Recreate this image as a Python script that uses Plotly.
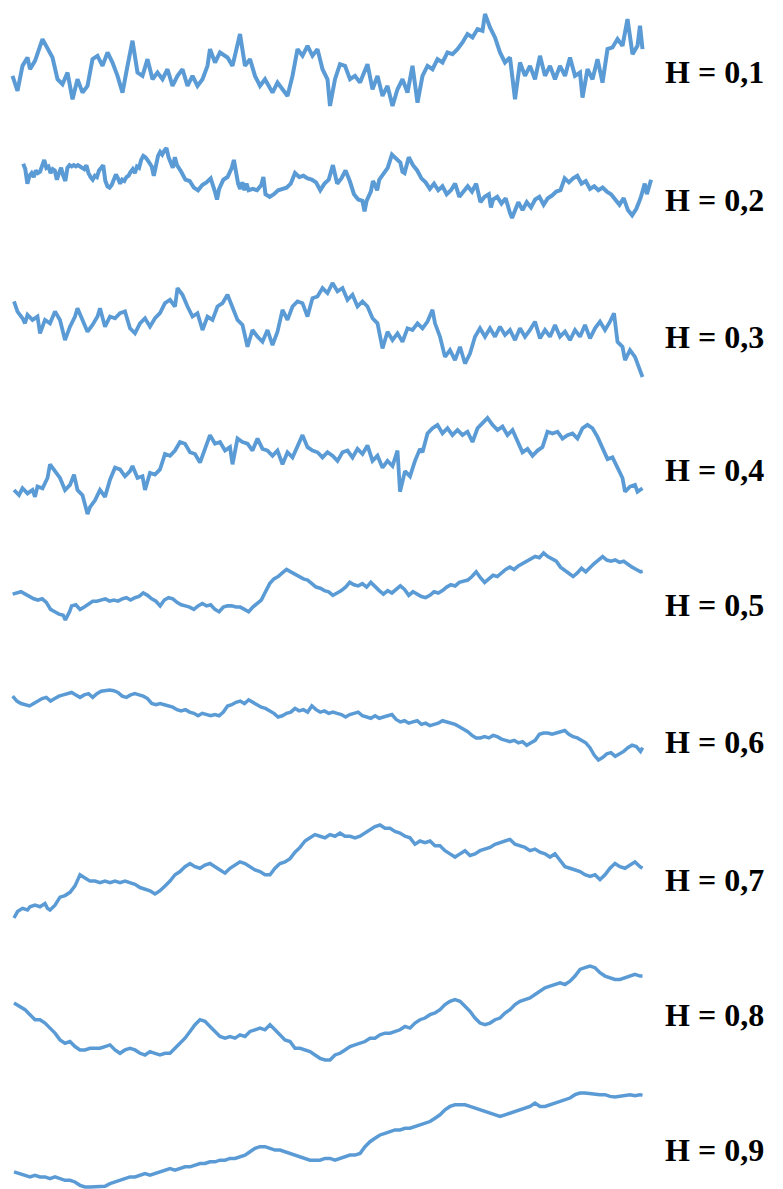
import numpy as np
import plotly.graph_objects as go

H_LABELS = ["H = 0,1", "H = 0,2", "H = 0,3", "H = 0,4", "H = 0,5",
            "H = 0,6", "H = 0,7", "H = 0,8", "H = 0,9"]

H01 = [(25,230),(35,275),(45,200),(55,175),(60,210),(70,185),(85,120),(95,150),(105,175),(115,240),(125,255),(135,220),(145,300),(155,240),(165,280),(175,260),(185,180),(195,170),(205,200),(215,160),(225,190),(235,230),(245,280),(255,200),(265,125),(275,220),(285,230),(295,180),(305,240),(315,220),(325,240),(335,210),(345,260),(355,230),(365,210),(375,260),(385,230),(395,260),(405,240),(415,200),(420,150),(430,190),(440,160),(455,175),(465,200),(480,105),(490,200),(500,180),(510,230),(520,260),(530,240),(545,280),(555,250),(565,270),(575,290),(585,230),(595,150),(605,170),(615,140),(625,170),(635,150),(645,210),(655,240),(660,320),(670,240),(680,195),(690,200),(700,240),(710,230),(720,250),(735,195),(745,270),(755,230),(765,290),(775,260),(785,320),(795,270),(805,240),(815,280),(825,200),(835,310),(845,230),(855,200),(865,210),(875,180),(885,190),(895,160),(905,165),(915,150),(925,130),(935,105),(945,115),(955,90),(965,95),(970,45),(980,85),(990,115),(1000,160),(1010,190),(1020,175),(1030,300),(1040,190),(1050,230),(1060,200),(1070,240),(1080,170),(1090,230),(1100,200),(1110,240),(1120,200),(1130,230),(1140,175),(1150,230),(1160,220),(1165,295),(1175,210),(1185,240),(1195,180),(1205,250),(1215,150),(1225,145),(1235,120),(1245,140),(1255,60),(1265,165),(1275,140),(1280,80),(1285,150)]

H02 = [(55,115),(60,135),(65,190),(70,160),(75,150),(80,165),(85,140),(90,150),(95,145),(100,120),(105,100),(110,130),(115,125),(120,150),(125,135),(130,140),(135,175),(140,150),(145,130),(150,160),(155,180),(160,130),(165,120),(170,125),(175,120),(180,125),(185,120),(190,125),(195,130),(200,135),(205,120),(210,150),(215,165),(220,175),(225,160),(230,165),(235,140),(240,130),(245,120),(250,180),(255,200),(260,205),(265,195),(270,175),(275,155),(280,170),(285,190),(290,175),(295,180),(300,165),(305,160),(310,145),(315,135),(320,150),(325,125),(330,130),(335,100),(340,85),(345,90),(350,100),(355,110),(360,125),(365,160),(370,115),(375,85),(380,70),(385,80),(390,65),(395,55),(400,90),(405,110),(410,130),(415,90),(420,120),(430,145),(440,175),(450,180),(460,205),(470,215),(480,195),(490,185),(500,170),(510,220),(515,250),(520,210),(530,175),(540,165),(545,150),(550,130),(555,100),(560,155),(565,190),(570,210),(575,185),(580,215),(585,190),(590,215),(600,210),(610,215),(620,195),(625,165),(630,230),(640,240),(650,230),(660,215),(670,210),(680,205),(690,190),(700,150),(710,165),(720,160),(730,170),(740,175),(750,185),(760,215),(770,190),(780,175),(790,120),(800,190),(810,170),(820,140),(830,180),(840,230),(850,250),(860,255),(865,295),(870,255),(880,220),(885,180),(890,195),(895,215),(900,175),(910,150),(920,130),(930,80),(940,95),(950,110),(955,145),(960,150),(970,90),(980,120),(990,140),(1000,170),(1010,185),(1020,210),(1030,190),(1040,215),(1050,200),(1060,230),(1070,215),(1080,190),(1090,240),(1100,220),(1110,200),(1120,220),(1130,190),(1140,260),(1150,240),(1160,230),(1165,280),(1170,250),(1180,240),(1190,265),(1200,245),(1210,300),(1215,320),(1220,300),(1230,260),(1240,290),(1250,260),(1260,280),(1270,250),(1280,240),(1290,270),(1300,245),(1310,235),(1320,220),(1330,215),(1340,170),(1350,185),(1360,170),(1370,160),(1380,190),(1390,180),(1400,210),(1410,200),(1420,215),(1430,205),(1440,220),(1450,230),(1460,250),(1470,270),(1480,245),(1490,290),(1500,310),(1510,285),(1520,245),(1530,190),(1535,230),(1545,175)]

H03 = [(28,95),(35,125),(45,145),(50,160),(55,135),(65,150),(75,140),(80,190),(90,150),(100,160),(110,125),(120,150),(130,210),(140,170),(150,140),(155,115),(165,150),(175,185),(185,165),(195,140),(200,115),(210,170),(220,140),(230,145),(240,130),(250,125),(260,175),(270,190),(280,160),(290,145),(300,170),(310,145),(320,130),(330,100),(340,90),(350,110),(355,55),(365,75),(375,110),(385,140),(395,130),(405,180),(415,140),(425,150),(435,110),(445,100),(455,75),(465,115),(475,150),(485,165),(495,230),(505,180),(515,200),(525,215),(535,180),(545,225),(555,185),(565,120),(575,150),(585,110),(595,95),(605,100),(615,140),(625,85),(635,80),(645,55),(655,70),(665,40),(675,65),(685,55),(695,90),(705,75),(715,110),(725,95),(735,110),(745,145),(755,160),(765,235),(775,185),(785,210),(795,190),(805,215),(815,175),(825,180),(835,160),(845,175),(855,155),(865,120),(870,160),(880,200),(890,260),(900,240),(910,270),(920,230),(930,280),(940,250),(950,200),(960,175),(970,200),(980,175),(990,200),(1000,170),(1010,195),(1020,180),(1030,210),(1040,175),(1050,200),(1060,180),(1070,155),(1080,205),(1090,180),(1100,200),(1110,165),(1120,200),(1130,185),(1140,210),(1150,180),(1160,200),(1170,165),(1180,205),(1190,175),(1200,155),(1210,180),(1220,155),(1228,130),(1235,215),(1245,230),(1250,270),(1260,240),(1270,260),(1278,290),(1285,320)]

H04 = [(28,250),(38,265),(45,245),(55,260),(65,250),(70,270),(75,240),(85,245),(95,215),(100,175),(110,195),(120,215),(130,250),(140,235),(148,205),(155,250),(165,265),(175,320),(180,300),(190,280),(200,250),(210,270),(220,220),(230,185),(240,190),(250,210),(260,195),(265,180),(275,215),(285,210),(290,250),(300,200),(310,205),(320,190),(330,145),(340,150),(350,135),(360,110),(370,115),(380,140),(390,145),(400,170),(410,130),(420,90),(430,115),(440,110),(450,135),(460,125),(465,175),(475,100),(485,110),(495,115),(505,135),(515,100),(525,130),(535,135),(545,150),(555,135),(565,175),(575,140),(585,155),(595,125),(605,90),(615,125),(625,135),(635,140),(645,155),(655,140),(665,150),(675,165),(685,140),(695,135),(705,155),(715,130),(725,145),(735,120),(745,165),(755,150),(765,185),(775,165),(785,180),(795,135),(800,255),(810,195),(820,210),(830,165),(840,130),(845,140),(855,85),(865,70),(875,60),(885,85),(895,70),(905,90),(915,75),(925,90),(935,80),(945,110),(955,70),(965,55),(975,40),(985,60),(995,75),(1005,65),(1015,90),(1025,75),(1035,110),(1045,140),(1055,130),(1065,150),(1075,135),(1085,125),(1095,80),(1105,85),(1115,80),(1125,100),(1135,90),(1145,85),(1155,100),(1165,70),(1175,60),(1185,70),(1195,95),(1205,130),(1215,160),(1225,155),(1235,185),(1245,215),(1250,255),(1260,240),(1270,235),(1275,255),(1285,245)]

H05 = [(30,215),(40,210),(50,205),(60,215),(70,225),(80,235),(90,240),(100,235),(110,250),(120,280),(130,290),(140,300),(150,305),(155,325),(165,290),(170,265),(180,260),(190,280),(200,270),(210,255),(220,245),(230,245),(240,240),(250,235),(260,245),(270,240),(280,245),(290,235),(300,230),(310,240),(320,230),(330,225),(340,210),(350,220),(360,235),(370,245),(380,265),(390,240),(400,230),(410,235),(420,250),(430,260),(440,265),(450,270),(460,280),(470,265),(480,255),(490,265),(500,260),(510,280),(520,290),(530,270),(540,265),(550,265),(560,270),(570,270),(580,280),(590,290),(600,270),(610,255),(620,240),(630,205),(640,170),(650,150),(660,140),(670,125),(680,110),(690,120),(700,130),(710,140),(720,150),(730,155),(740,170),(750,185),(760,190),(770,200),(780,205),(790,220),(800,210),(810,200),(820,185),(830,165),(840,175),(850,180),(860,170),(870,185),(880,165),(890,180),(900,200),(910,215),(920,200),(930,210),(940,195),(950,180),(960,195),(970,220),(980,205),(990,215),(1000,225),(1010,230),(1020,220),(1030,205),(1040,210),(1050,200),(1060,185),(1070,175),(1080,180),(1090,165),(1100,160),(1110,155),(1120,140),(1130,120),(1140,145),(1150,165),(1160,150),(1170,135),(1180,140),(1190,125),(1200,110),(1210,100),(1220,110),(1230,95),(1240,85),(1250,75),(1260,65),(1270,55),(1280,60),(1290,40),(1300,55),(1310,65),(1320,75),(1330,100),(1340,115),(1350,130),(1360,140),(1370,125),(1380,105),(1390,120),(1400,100),(1410,85),(1420,70),(1430,55),(1440,70),(1450,75),(1460,70),(1470,80),(1480,75),(1490,90),(1500,100),(1510,110),(1520,120),(1525,118)]

H06 = [(30,60),(40,80),(50,90),(60,95),(70,100),(80,90),(90,80),(100,70),(110,65),(120,80),(130,70),(140,60),(150,55),(160,50),(170,45),(180,55),(190,65),(200,55),(210,50),(220,65),(230,50),(240,40),(250,38),(260,35),(270,38),(280,45),(290,60),(300,65),(310,55),(320,50),(330,55),(340,60),(350,70),(360,90),(370,95),(380,90),(390,95),(400,100),(410,105),(420,115),(430,120),(440,115),(450,125),(460,130),(470,140),(480,130),(490,135),(500,140),(510,135),(520,140),(530,125),(540,100),(550,95),(560,85),(570,80),(580,90),(590,75),(600,85),(610,95),(620,105),(630,110),(640,120),(650,130),(660,145),(670,140),(680,130),(690,125),(700,110),(710,120),(720,115),(730,125),(740,100),(750,115),(760,125),(770,120),(780,130),(790,125),(800,130),(810,135),(820,145),(830,135),(840,130),(850,125),(860,140),(870,145),(880,150),(890,140),(900,150),(910,145),(920,140),(930,135),(940,155),(950,165),(960,160),(970,170),(980,165),(990,160),(1000,175),(1010,170),(1020,180),(1030,175),(1040,170),(1050,160),(1060,165),(1070,170),(1080,175),(1090,185),(1100,195),(1110,205),(1120,220),(1130,230),(1140,230),(1150,225),(1160,230),(1170,220),(1180,225),(1190,235),(1200,240),(1210,245),(1220,240),(1230,250),(1240,245),(1250,260),(1260,250),(1270,240),(1280,215),(1290,210),(1300,210),(1310,215),(1320,210),(1330,205),(1340,200),(1350,215),(1360,225),(1370,230),(1380,240),(1390,250),(1400,270),(1410,300),(1420,320),(1430,310),(1440,295),(1450,290),(1460,305),(1470,295),(1480,285),(1490,270),(1500,260),(1510,265),(1520,285),(1525,270)]

H07 = [(28,320),(35,300),(45,290),(55,295),(60,285),(70,280),(80,285),(90,275),(95,290),(100,295),(110,280),(120,255),(130,250),(140,240),(150,220),(160,185),(170,195),(180,205),(190,205),(200,210),(210,205),(220,210),(230,205),(240,210),(250,205),(260,210),(270,215),(280,225),(290,230),(300,235),(310,245),(320,235),(330,220),(340,205),(350,185),(360,175),(370,160),(380,150),(390,160),(400,165),(410,155),(420,150),(430,160),(440,170),(450,180),(460,165),(470,155),(480,145),(490,150),(500,160),(510,170),(520,175),(530,185),(540,185),(550,165),(560,150),(570,145),(580,135),(590,115),(600,100),(610,80),(620,70),(630,60),(640,65),(650,70),(660,60),(670,65),(680,55),(690,65),(700,65),(710,70),(720,65),(730,55),(740,45),(750,35),(760,30),(770,40),(780,40),(790,50),(800,55),(810,65),(820,70),(830,90),(840,80),(850,85),(860,80),(870,95),(880,95),(890,110),(900,120),(910,130),(920,120),(930,110),(940,125),(950,120),(960,110),(970,105),(980,100),(990,90),(1000,85),(1010,80),(1020,75),(1030,90),(1040,95),(1050,100),(1060,110),(1070,105),(1080,115),(1090,120),(1100,130),(1110,120),(1120,140),(1130,160),(1140,165),(1150,170),(1160,175),(1170,185),(1180,190),(1190,185),(1200,200),(1210,185),(1220,165),(1230,150),(1240,160),(1250,165),(1260,155),(1270,145),(1280,160),(1285,165)]

H08 = [(28,135),(40,145),(50,155),(60,170),(70,185),(80,185),(90,195),(100,210),(110,225),(120,245),(130,255),(140,250),(150,265),(160,275),(170,275),(180,270),(190,270),(200,270),(210,265),(220,260),(230,275),(240,285),(250,275),(260,270),(270,275),(280,285),(290,290),(300,280),(310,285),(320,290),(330,285),(340,285),(350,270),(360,255),(370,240),(380,220),(390,200),(400,185),(410,190),(420,205),(430,220),(440,235),(450,240),(460,235),(470,240),(480,230),(490,235),(500,220),(510,215),(520,210),(530,215),(540,200),(550,215),(560,230),(570,245),(580,250),(590,270),(600,270),(610,275),(620,280),(630,290),(640,300),(650,305),(660,305),(670,290),(680,285),(690,275),(700,265),(710,260),(720,255),(730,250),(740,240),(750,240),(760,230),(770,225),(780,225),(790,220),(800,215),(810,205),(820,210),(830,195),(840,185),(850,180),(860,170),(870,165),(880,155),(890,140),(900,130),(910,125),(920,130),(930,145),(940,160),(950,180),(960,195),(970,200),(980,195),(990,185),(1000,180),(1010,165),(1020,155),(1030,140),(1040,130),(1050,125),(1060,120),(1070,110),(1080,100),(1090,90),(1100,85),(1110,80),(1120,75),(1130,80),(1140,70),(1150,55),(1160,35),(1170,30),(1180,25),(1190,30),(1200,45),(1210,55),(1220,60),(1230,65),(1240,65),(1250,60),(1260,55),(1270,50),(1280,55),(1285,55)]

H09 = [(28,275),(40,280),(50,285),(60,290),(70,285),(80,290),(90,290),(100,295),(110,290),(120,295),(130,300),(140,300),(150,305),(160,315),(170,320),(180,320),(190,320),(200,320),(210,318),(220,310),(230,305),(240,300),(250,295),(260,290),(270,290),(280,285),(290,280),(300,285),(310,280),(320,275),(330,270),(340,265),(350,270),(360,265),(370,260),(380,260),(390,255),(400,250),(410,250),(420,245),(430,245),(440,240),(450,240),(460,235),(470,235),(480,230),(490,225),(500,215),(510,205),(520,200),(530,200),(540,205),(550,210),(560,210),(570,215),(580,220),(590,225),(600,230),(610,235),(620,240),(630,240),(640,240),(650,235),(660,235),(670,240),(680,235),(690,230),(700,225),(710,225),(720,220),(730,200),(740,185),(750,175),(760,165),(770,160),(780,155),(790,150),(800,150),(810,145),(820,145),(830,140),(840,135),(850,130),(860,125),(870,115),(880,105),(890,90),(900,80),(910,75),(920,75),(930,75),(940,80),(950,85),(960,90),(970,95),(980,100),(990,105),(1000,110),(1010,105),(1020,100),(1030,95),(1040,90),(1050,85),(1060,80),(1070,70),(1080,80),(1090,80),(1100,75),(1110,70),(1120,65),(1130,60),(1140,55),(1150,45),(1160,40),(1170,40),(1180,42),(1190,42),(1200,45),(1210,45),(1220,50),(1230,52),(1240,50),(1250,48),(1260,45),(1270,48),(1280,45),(1285,47)]

SERIES = [H01, H02, H03, H04, H05, H06, H07, H08, H09]

# Layout calibration (pixels in a 783x1189 canvas)
W, HGT = 783, 1189
X_START, X_END = 12, 643
T_PER_PX = [2.0, 2.373, 2.0, 2.0, 2.373, 2.373, 2.0, 2.0, 2.0]
# (depth_top, px_top, depth_bottom, px_bottom)
CAL = [(45, 14, 320, 106), (55, 148, 320, 218), (40, 283, 320, 377), (40, 418, 320, 514),
       (40, 553, 325, 620), (35, 690, 320, 760), (30, 825, 320, 918), (25, 966, 305, 1060),
       (40, 1093, 320, 1187)]
LABEL_Y = [72, 200, 337, 470, 605, 742, 880, 1015, 1150]
LABEL_X = 664

COLOR = "#5B9BD5"
WIDTHS = [4.0, 4.0, 3.8, 3.8, 3.6, 3.5, 3.5, 3.5, 3.5]

fig = go.Figure()
layout = {}
for i, s in enumerate(SERIES):
    t = np.array([p[0] for p in s], dtype=float) / T_PER_PX[i]
    d = np.array([p[1] for p in s], dtype=float)
    time = (t - X_START) / (X_END - X_START)
    yname = "y" if i == 0 else f"y{i+1}"
    fig.add_trace(go.Scatter(x=time, y=d, mode="lines", yaxis=yname,
                             line=dict(color=COLOR, width=WIDTHS[i]),
                             hoverinfo="skip", showlegend=False))
    dt, pt, db, pb = CAL[i]
    scale = (pb - pt) / (db - dt)
    top_val = dt - pt / scale
    bot_val = dt + (HGT - pt) / scale
    ax = dict(domain=[0, 1], range=[bot_val, top_val], visible=False,
              showgrid=False, zeroline=False, fixedrange=True)
    if i > 0:
        ax["overlaying"] = "y"
    layout["yaxis" if i == 0 else f"yaxis{i+1}"] = ax

xr = [(0 - X_START) / (X_END - X_START), (W - X_START) / (X_END - X_START)]
layout["xaxis"] = dict(range=xr, visible=False, showgrid=False, zeroline=False, fixedrange=True)

ann = []
for lab, yc in zip(H_LABELS, LABEL_Y):
    ann.append(dict(x=LABEL_X / W, y=1 - yc / HGT, xref="paper", yref="paper",
                    text=f"<b>{lab}</b>", showarrow=False, xanchor="left", yanchor="middle",
                    borderpad=0,
                    font=dict(family="Liberation Serif", size=32, color="black")))

fig.update_layout(width=W, height=HGT, autosize=False,
                  margin=dict(l=0, r=0, t=0, b=0, pad=0),
                  paper_bgcolor="white", plot_bgcolor="white",
                  annotations=ann, **layout)
fig.write_html("out.html", config={"displayModeBar": False},
               post_script="document.body.style.margin='0';document.body.style.overflow='hidden';")
